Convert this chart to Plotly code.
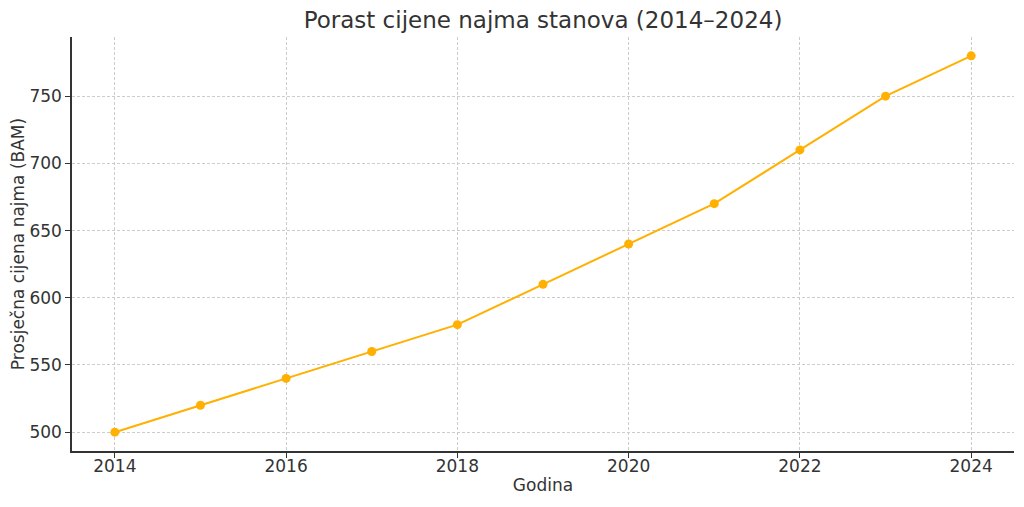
import plotly.graph_objects as go

# rent data
years = [2014, 2015, 2016, 2017, 2018, 2019, 2020, 2021, 2022, 2023, 2024]
rent_bam = [500, 520, 540, 560, 580, 610, 640, 670, 710, 750, 780]

x_ticks = [2014, 2016, 2018, 2020, 2022, 2024]
y_ticks = [500, 550, 600, 650, 700, 750]

ORANGE = '#ffb000'
TEXT = '#333333'
AXIS = '#333333'
GRID = '#cccccc'

# the page body adds an 8px margin, so the figure is a bit smaller than the window
W, H = 1016, 499

fig = go.Figure()
fig.add_trace(
    go.Scatter(
        x=years, y=rent_bam,
        mode='lines+markers',
        line=dict(color=ORANGE, width=2),
        marker=dict(color=ORANGE, size=9),
        showlegend=False,
    )
)

axis_common = dict(
    showline=True,
    linecolor=AXIS,
    linewidth=1.5,
    showgrid=True,
    gridcolor=GRID,
    griddash='3px,2px',
    gridwidth=0.8,
    ticks='outside',
    ticklen=5,
    tickwidth=1.2,
    tickcolor=AXIS,
    zeroline=False,
    automargin=False,
    tickfont=dict(size=17, color=TEXT),
)

fig.update_layout(
    width=W, height=H,
    margin=dict(l=64, r=10, t=29, b=56),
    paper_bgcolor='white',
    plot_bgcolor='white',
    font=dict(family='DejaVu Sans', color=TEXT),
    title=dict(
        text='Porast cijene najma stanova (2014–2024)',
        x=0.5, xanchor='center', xref='paper',
        y=1 - 12 / H, yanchor='middle',
        font=dict(size=23, color=TEXT),
    ),
    xaxis=dict(
        axis_common,
        range=[2013.5, 2024.5],
        tickvals=x_ticks,
        ticklabelstandoff=-6,
        title=dict(text='Godina', font=dict(size=17, color=TEXT), standoff=4),
    ),
    yaxis=dict(
        axis_common,
        range=[486, 794],
        tickvals=y_ticks,
        title=dict(text='Prosječna cijena najma (BAM)', font=dict(size=17, color=TEXT), standoff=8),
    ),
)

fig.write_html("out.html")
